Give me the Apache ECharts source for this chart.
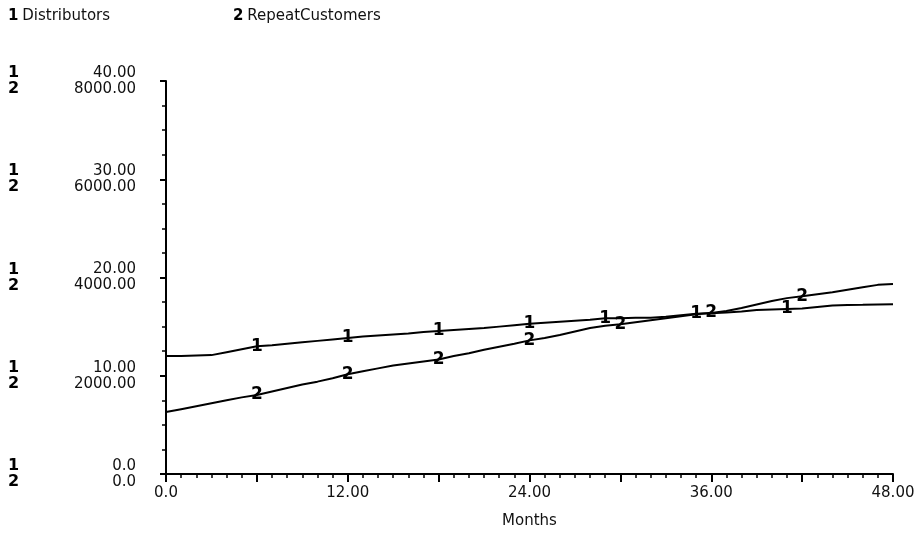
<!DOCTYPE html>
<html lang="en">
<head>
  <meta charset="UTF-8">
  <title>Distributors / RepeatCustomers</title>
  <style>
    html, body { margin: 0; padding: 0; background: #fff; }
    #chart { width: 922px; height: 537px; }
  </style>
</head>
<body>
  <div id="chart"></div>
  <script src="https://cdn.jsdelivr.net/npm/echarts@6/dist/echarts.min.js"></script>
  <script>
    var months = [];
    for (var m = 0; m <= 48; m++) months.push(m);

    // values, one per month
    var distributors = [
      12.0, 12.0, 12.05, 12.1, 12.4, 12.7, 13.0, 13.1, 13.25, 13.4,
      13.55, 13.7, 13.85, 14.0, 14.1, 14.2, 14.3, 14.45, 14.55, 14.65,
      14.75, 14.85, 15.0, 15.15, 15.3, 15.4, 15.5, 15.6, 15.7, 15.85,
      15.85, 15.9, 15.9, 16.0, 16.15, 16.3, 16.35, 16.45, 16.55, 16.7,
      16.75, 16.8, 16.85, 17.0, 17.15, 17.2, 17.22, 17.25, 17.27
    ];
    var repeatCustomers = [
      1260, 1320, 1380, 1440, 1500, 1560, 1610, 1680, 1750, 1820,
      1880, 1950, 2030, 2090, 2150, 2210, 2250, 2290, 2330, 2400,
      2460, 2530, 2590, 2650, 2720, 2770, 2830, 2900, 2970, 3020,
      3050, 3090, 3130, 3170, 3210, 3250, 3280, 3320, 3380, 3450,
      3520, 3580, 3620, 3660, 3700, 3750, 3800, 3850, 3870
    ];

    // months where the "1" / "2" glyphs sit on the curves
    var marks1 = [6, 12, 18, 24, 29, 35, 41];
    var marks2 = [6, 12, 18, 24, 30, 36, 42];

    var distTicks = ['0.0', '10.00', '20.00', '30.00', '40.00'];
    var custTicks = ['0.0', '2000.00', '4000.00', '6000.00', '8000.00'];
    var xTicks = ['0.0', '', '12.00', '', '24.00', '', '36.00', '', '48.00'];

    var font = 'DejaVu Sans';

    function pairs(ys) {
      return months.map(function (x, i) { return [x, ys[i]]; });
    }
    function markPts(list, ys) {
      return list.map(function (x) { return [x, ys[x]]; });
    }
    function legendAt(left, num, name) {
      return {
        left: left,
        top: 4,
        itemWidth: 0,
        itemHeight: 0,
        selectedMode: false,
        data: [name],
        formatter: function (n) { return '{n|' + num + '} {t|' + n + '}'; },
        textStyle: {
          rich: {
            n: { fontSize: 15, fontWeight: 'bold', fontFamily: font, color: '#000' },
            t: { fontSize: 15, fontFamily: font, color: '#111' }
          }
        }
      };
    }
    function glyph(txt) {
      return {
        show: true, position: 'inside', formatter: txt,
        fontSize: 17, fontWeight: 'bold', fontFamily: font,
        color: '#000', textBorderWidth: 0, opacity: 1
      };
    }

    var chart = echarts.init(document.getElementById('chart'));
    chart.setOption({
      animation: false,
      backgroundColor: '#fff',
      textStyle: { fontFamily: font, color: '#111' },
      legend: [legendAt(-3, '1', 'Distributors'), legendAt(222, '2', 'RepeatCustomers')],
      grid: { left: 166, right: 29, top: 81, bottom: 63 },
      xAxis: {
        type: 'value',
        min: 0,
        max: 48,
        interval: 6,
        name: 'Months',
        nameLocation: 'middle',
        nameGap: 40,
        nameTextStyle: { fontSize: 15, fontFamily: font, color: '#111' },
        axisLine: { lineStyle: { color: '#000', width: 2 } },
        axisTick: { length: 8, lineStyle: { color: '#000', width: 2 } },
        minorTick: { show: true, splitNumber: 6, length: 4, lineStyle: { color: '#000', width: 1.5 } },
        splitLine: { show: false },
        axisLabel: {
          margin: 12,
          fontSize: 15,
          fontFamily: font,
          color: '#111',
          formatter: function (v) { return xTicks[Math.round(v / 6)]; }
        }
      },
      yAxis: [{
        type: 'value',
        min: 0,
        max: 40,
        interval: 10,
        axisLine: { show: true, lineStyle: { color: '#000', width: 2 } },
        axisTick: { show: true, length: 6, lineStyle: { color: '#000', width: 2 } },
        minorTick: { show: true, splitNumber: 4, length: 4, lineStyle: { color: '#000', width: 1.5 } },
        splitLine: { show: false },
        axisLabel: {
          margin: 30,
          formatter: function (v) {
            var i = Math.round(v / 10);
            return '{n|1}{v|' + distTicks[i] + '}\n{n|2}{v|' + custTicks[i] + '}';
          },
          rich: {
            n: { width: 20, align: 'left', fontSize: 16, fontWeight: 'bold', lineHeight: 16, fontFamily: font, color: '#000' },
            v: { width: 108, align: 'right', fontSize: 15, lineHeight: 16, fontFamily: font, color: '#111' }
          }
        }
      }, {
        type: 'value',
        min: 0,
        max: 8000,
        show: false
      }],
      series: [{
        name: 'Distributors',
        type: 'line',
        yAxisIndex: 0,
        showSymbol: false,
        lineStyle: { color: '#000', width: 2 },
        itemStyle: { color: '#000' },
        data: pairs(distributors)
      }, {
        name: 'RepeatCustomers',
        type: 'line',
        yAxisIndex: 1,
        showSymbol: false,
        lineStyle: { color: '#000', width: 2 },
        itemStyle: { color: '#000' },
        data: pairs(repeatCustomers)
      }, {
        type: 'scatter',
        yAxisIndex: 0,
        symbolSize: 2,
        itemStyle: { color: 'rgba(0,0,0,0)' },
        label: glyph('1'),
        data: markPts(marks1, distributors)
      }, {
        type: 'scatter',
        yAxisIndex: 1,
        symbolSize: 2,
        itemStyle: { color: 'rgba(0,0,0,0)' },
        label: glyph('2'),
        data: markPts(marks2, repeatCustomers)
      }]
    });
  </script>
</body>
</html>
